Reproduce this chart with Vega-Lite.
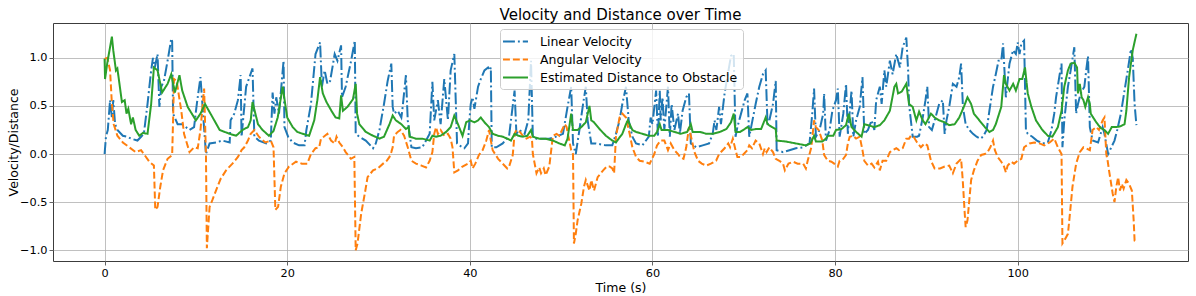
{
"$schema":"https://vega.github.io/schema/vega-lite/v6.json",
"width":1135,"height":238,
"autosize":{"type":"none"},
"padding":{"left":53,"top":23,"right":8,"bottom":35},
"title":{"text":"Velocity and Distance over Time","fontSize":15,"font":"DejaVu Sans","fontWeight":"normal","anchor":"middle","baseline":"alphabetic","offset":-11.5,"color":"#000000"},
"config":{
"font":"DejaVu Sans",
"view":{"stroke":"#3c3c3c","strokeWidth":1},
"axis":{"domain":false,"grid":true,"gridColor":"#b0b0b0","gridWidth":0.8,"tickColor":"#3c3c3c","tickSize":4,"tickWidth":0.8,"labelFont":"DejaVu Sans","labelFontSize":11.3,"labelColor":"#000000","titleFont":"DejaVu Sans","titleFontSize":12.5,"titleFontWeight":"normal","titleColor":"#000000"},
"legend":{"orient":"none","legendX":447,"legendY":6,"title":null,"labelFont":"DejaVu Sans","labelFontSize":12.5,"labelColor":"#000000","labelLimit":400,"symbolType":"M-2,0H2","symbolSize":156,"symbolStrokeWidth":2,"symbolOffset":3,"labelOffset":17,"padding":5,"rowPadding":4,"fillColor":"rgba(255,255,255,0.8)","strokeColor":"#cccccc","cornerRadius":3}
},
"data":{"values":[
{"s":"L","t":0,"v":0.0},{"s":"L","t":0.15,"v":0.18},{"s":"L","t":0.35,"v":0.25},{"s":"L","t":0.6,"v":0.56},{"s":"L","t":0.8,"v":0.38},{"s":"L","t":0.95,"v":0.56},{"s":"L","t":1.15,"v":0.31},{"s":"L","t":1.4,"v":0.25},{"s":"L","t":2.0,"v":0.19},{"s":"L","t":2.5,"v":0.18},{"s":"L","t":2.9,"v":0.16},{"s":"L","t":3.6,"v":0.14},{"s":"L","t":4.0,"v":0.18},{"s":"L","t":4.3,"v":0.21},{"s":"L","t":4.7,"v":0.52},{"s":"L","t":5.1,"v":0.87},{"s":"L","t":5.3,"v":1.0},{"s":"L","t":5.5,"v":0.9},{"s":"L","t":5.8,"v":1.04},{"s":"L","t":6.0,"v":0.49},{"s":"L","t":6.2,"v":0.7},{"s":"L","t":6.5,"v":0.76},{"s":"L","t":6.9,"v":0.97},{"s":"L","t":7.3,"v":1.2},{"s":"L","t":7.4,"v":1.17},{"s":"L","t":7.5,"v":0.42},{"s":"L","t":8.0,"v":0.31},{"s":"L","t":8.5,"v":0.31},{"s":"L","t":9.3,"v":0.25},{"s":"L","t":9.8,"v":0.28},{"s":"L","t":10.1,"v":0.52},{"s":"L","t":10.5,"v":0.8},{"s":"L","t":11.1,"v":0.0},{"s":"L","t":11.5,"v":0.11},{"s":"L","t":12.2,"v":0.12},{"s":"L","t":12.9,"v":0.14},{"s":"L","t":13.7,"v":0.12},{"s":"L","t":13.8,"v":0.35},{"s":"L","t":14.2,"v":0.42},{"s":"L","t":14.6,"v":0.56},{"s":"L","t":14.9,"v":0.82},{"s":"L","t":15.0,"v":0.18},{"s":"L","t":15.5,"v":0.7},{"s":"L","t":16.2,"v":0.89},{"s":"L","t":16.4,"v":0.18},{"s":"L","t":16.9,"v":0.14},{"s":"L","t":17.7,"v":0.11},{"s":"L","t":18.2,"v":0.14},{"s":"L","t":18.4,"v":0.64},{"s":"L","t":18.6,"v":0.42},{"s":"L","t":18.8,"v":0.59},{"s":"L","t":19.1,"v":0.42},{"s":"L","t":19.6,"v":0.97},{"s":"L","t":19.7,"v":0.28},{"s":"L","t":20.1,"v":0.18},{"s":"L","t":20.6,"v":0.12},{"s":"L","t":21.3,"v":0.09},{"s":"L","t":21.9,"v":0.09},{"s":"L","t":22.1,"v":0.25},{"s":"L","t":22.6,"v":0.52},{"s":"L","t":23.1,"v":1.04},{"s":"L","t":23.6,"v":1.16},{"s":"L","t":23.8,"v":0.7},{"s":"L","t":24.1,"v":0.87},{"s":"L","t":24.4,"v":0.73},{"s":"L","t":24.7,"v":0.76},{"s":"L","t":25.2,"v":1.04},{"s":"L","t":25.5,"v":0.97},{"s":"L","t":25.9,"v":1.13},{"s":"L","t":26.0,"v":0.59},{"s":"L","t":26.4,"v":0.7},{"s":"L","t":27.0,"v":0.97},{"s":"L","t":27.4,"v":1.18},{"s":"L","t":27.5,"v":0.21},{"s":"L","t":27.9,"v":0.18},{"s":"L","t":28.6,"v":0.14},{"s":"L","t":29.4,"v":0.06},{"s":"L","t":29.7,"v":0.11},{"s":"L","t":30.1,"v":0.25},{"s":"L","t":30.6,"v":0.52},{"s":"L","t":31.0,"v":0.76},{"s":"L","t":31.4,"v":0.94},{"s":"L","t":31.55,"v":0.49},{"s":"L","t":31.7,"v":0.42},{"s":"L","t":32.1,"v":0.45},{"s":"L","t":32.5,"v":0.38},{"s":"L","t":32.6,"v":0.45},{"s":"L","t":33.0,"v":0.82},{"s":"L","t":33.2,"v":0.35},{"s":"L","t":33.6,"v":0.07},{"s":"L","t":34.1,"v":0.06},{"s":"L","t":34.8,"v":0.07},{"s":"L","t":35.6,"v":0.21},{"s":"L","t":35.9,"v":0.75},{"s":"L","t":36.1,"v":0.35},{"s":"L","t":36.5,"v":0.56},{"s":"L","t":36.8,"v":0.31},{"s":"L","t":37.2,"v":0.78},{"s":"L","t":37.6,"v":0.35},{"s":"L","t":37.9,"v":0.87},{"s":"L","t":38.3,"v":1.04},{"s":"L","t":38.6,"v":0.11},{"s":"L","t":38.85,"v":0.09},{"s":"L","t":39.4,"v":0.06},{"s":"L","t":39.8,"v":0.11},{"s":"L","t":39.95,"v":0.35},{"s":"L","t":40.1,"v":0.52},{"s":"L","t":40.3,"v":0.59},{"s":"L","t":40.5,"v":0.47},{"s":"L","t":40.9,"v":0.7},{"s":"L","t":41.2,"v":0.78},{"s":"L","t":41.6,"v":0.87},{"s":"L","t":42.0,"v":0.9},{"s":"L","t":42.2,"v":0.87},{"s":"L","t":42.3,"v":0.9},{"s":"L","t":42.4,"v":0.07},{"s":"L","t":42.9,"v":0.07},{"s":"L","t":43.6,"v":0.11},{"s":"L","t":44.3,"v":0.19},{"s":"L","t":44.9,"v":0.66},{"s":"L","t":45.1,"v":0.21},{"s":"L","t":45.4,"v":0.25},{"s":"L","t":46.0,"v":0.21},{"s":"L","t":46.4,"v":0.35},{"s":"L","t":46.7,"v":0.97},{"s":"L","t":46.9,"v":0.18},{"s":"L","t":47.3,"v":0.16},{"s":"L","t":48.0,"v":0.16},{"s":"L","t":48.7,"v":0.16},{"s":"L","t":49.4,"v":0.18},{"s":"L","t":50.2,"v":0.21},{"s":"L","t":50.7,"v":0.49},{"s":"L","t":51.1,"v":0.7},{"s":"L","t":51.3,"v":0.11},{"s":"L","t":51.6,"v":0.0},{"s":"L","t":52.0,"v":0.25},{"s":"L","t":52.4,"v":0.52},{"s":"L","t":52.7,"v":0.7},{"s":"L","t":52.9,"v":0.35},{"s":"L","t":53.3,"v":0.11},{"s":"L","t":53.8,"v":0.11},{"s":"L","t":54.9,"v":0.09},{"s":"L","t":55.6,"v":0.09},{"s":"L","t":56.0,"v":0.21},{"s":"L","t":56.4,"v":0.35},{"s":"L","t":56.7,"v":0.52},{"s":"L","t":57.1,"v":0.7},{"s":"L","t":57.4,"v":0.35},{"s":"L","t":57.8,"v":0.18},{"s":"L","t":58.2,"v":0.11},{"s":"L","t":58.9,"v":0.09},{"s":"L","t":59.6,"v":0.18},{"s":"L","t":59.8,"v":0.38},{"s":"L","t":60.0,"v":0.31},{"s":"L","t":60.4,"v":0.66},{"s":"L","t":60.6,"v":0.18},{"s":"L","t":60.8,"v":0.66},{"s":"L","t":60.9,"v":0.35},{"s":"L","t":61.1,"v":0.59},{"s":"L","t":61.3,"v":0.25},{"s":"L","t":61.7,"v":0.7},{"s":"L","t":61.9,"v":0.18},{"s":"L","t":62.1,"v":0.52},{"s":"L","t":62.4,"v":0.25},{"s":"L","t":62.8,"v":0.42},{"s":"L","t":63.0,"v":0.21},{"s":"L","t":63.3,"v":0.45},{"s":"L","t":63.7,"v":0.59},{"s":"L","t":64.0,"v":0.63},{"s":"L","t":64.2,"v":0.11},{"s":"L","t":64.8,"v":0.07},{"s":"L","t":65.5,"v":0.09},{"s":"L","t":66.2,"v":0.11},{"s":"L","t":66.6,"v":0.21},{"s":"L","t":66.8,"v":0.35},{"s":"L","t":67.0,"v":0.25},{"s":"L","t":67.3,"v":0.49},{"s":"L","t":67.5,"v":0.31},{"s":"L","t":67.9,"v":0.63},{"s":"L","t":68.2,"v":0.8},{"s":"L","t":68.6,"v":1.02},{"s":"L","t":68.9,"v":1.04},{"s":"L","t":69.1,"v":0.18},{"s":"L","t":69.3,"v":0.28},{"s":"L","t":69.7,"v":0.42},{"s":"L","t":70.1,"v":0.56},{"s":"L","t":70.4,"v":0.63},{"s":"L","t":70.6,"v":0.18},{"s":"L","t":70.95,"v":0.35},{"s":"L","t":71.3,"v":0.52},{"s":"L","t":71.7,"v":0.7},{"s":"L","t":72.1,"v":0.83},{"s":"L","t":72.4,"v":0.87},{"s":"L","t":72.6,"v":0.31},{"s":"L","t":72.8,"v":0.35},{"s":"L","t":73.2,"v":0.52},{"s":"L","t":73.5,"v":0.76},{"s":"L","t":73.6,"v":0.04},{"s":"L","t":74.3,"v":0.02},{"s":"L","t":75.0,"v":0.04},{"s":"L","t":75.7,"v":0.06},{"s":"L","t":76.5,"v":0.07},{"s":"L","t":77.2,"v":0.11},{"s":"L","t":77.5,"v":0.42},{"s":"L","t":77.7,"v":0.68},{"s":"L","t":77.9,"v":0.18},{"s":"L","t":78.3,"v":0.25},{"s":"L","t":78.7,"v":0.42},{"s":"L","t":78.8,"v":0.63},{"s":"L","t":79.0,"v":0.14},{"s":"L","t":79.4,"v":0.25},{"s":"L","t":79.7,"v":0.45},{"s":"L","t":80.1,"v":0.56},{"s":"L","t":80.3,"v":0.68},{"s":"L","t":80.5,"v":0.18},{"s":"L","t":80.9,"v":0.42},{"s":"L","t":81.2,"v":0.73},{"s":"L","t":81.4,"v":0.21},{"s":"L","t":81.8,"v":0.66},{"s":"L","t":82.0,"v":0.18},{"s":"L","t":82.3,"v":0.35},{"s":"L","t":82.7,"v":0.49},{"s":"L","t":83.0,"v":0.8},{"s":"L","t":83.2,"v":0.21},{"s":"L","t":83.6,"v":0.25},{"s":"L","t":84.0,"v":0.35},{"s":"L","t":84.3,"v":0.25},{"s":"L","t":84.5,"v":0.56},{"s":"L","t":84.9,"v":0.7},{"s":"L","t":85.1,"v":0.52},{"s":"L","t":85.4,"v":0.87},{"s":"L","t":85.6,"v":0.7},{"s":"L","t":86.0,"v":0.97},{"s":"L","t":86.3,"v":0.83},{"s":"L","t":86.7,"v":1.04},{"s":"L","t":87.1,"v":0.9},{"s":"L","t":87.4,"v":1.11},{"s":"L","t":87.8,"v":1.21},{"s":"L","t":88.0,"v":0.87},{"s":"L","t":88.1,"v":0.52},{"s":"L","t":88.5,"v":0.18},{"s":"L","t":89.0,"v":0.18},{"s":"L","t":89.2,"v":0.19},{"s":"L","t":89.6,"v":0.38},{"s":"L","t":89.9,"v":0.56},{"s":"L","t":90.1,"v":0.7},{"s":"L","t":90.3,"v":0.28},{"s":"L","t":90.6,"v":0.25},{"s":"L","t":91.0,"v":0.38},{"s":"L","t":91.4,"v":0.52},{"s":"L","t":91.8,"v":0.56},{"s":"L","t":92.0,"v":0.21},{"s":"L","t":92.2,"v":0.35},{"s":"L","t":92.5,"v":0.49},{"s":"L","t":92.9,"v":0.73},{"s":"L","t":93.3,"v":0.7},{"s":"L","t":93.6,"v":0.8},{"s":"L","t":93.8,"v":0.94},{"s":"L","t":94.0,"v":0.49},{"s":"L","t":94.3,"v":0.31},{"s":"L","t":94.7,"v":0.25},{"s":"L","t":95.1,"v":0.21},{"s":"L","t":95.5,"v":0.18},{"s":"L","t":95.9,"v":0.16},{"s":"L","t":96.2,"v":0.18},{"s":"L","t":96.6,"v":0.25},{"s":"L","t":96.9,"v":0.45},{"s":"L","t":97.3,"v":0.7},{"s":"L","t":97.6,"v":0.83},{"s":"L","t":97.9,"v":0.97},{"s":"L","t":98.2,"v":0.97},{"s":"L","t":98.4,"v":1.15},{"s":"L","t":98.55,"v":0.87},{"s":"L","t":98.7,"v":0.59},{"s":"L","t":99.1,"v":0.94},{"s":"L","t":99.5,"v":1.08},{"s":"L","t":99.8,"v":1.04},{"s":"L","t":100.0,"v":1.16},{"s":"L","t":100.2,"v":1.04},{"s":"L","t":100.4,"v":1.15},{"s":"L","t":100.7,"v":1.18},{"s":"L","t":100.9,"v":0.25},{"s":"L","t":101.1,"v":0.21},{"s":"L","t":101.6,"v":0.18},{"s":"L","t":102.1,"v":0.14},{"s":"L","t":102.7,"v":0.11},{"s":"L","t":103.3,"v":0.12},{"s":"L","t":103.7,"v":0.25},{"s":"L","t":104.0,"v":0.42},{"s":"L","t":104.2,"v":0.59},{"s":"L","t":104.6,"v":0.83},{"s":"L","t":104.8,"v":0.94},{"s":"L","t":104.9,"v":0.07},{"s":"L","t":105.1,"v":0.35},{"s":"L","t":105.5,"v":0.7},{"s":"L","t":105.8,"v":0.87},{"s":"L","t":106.2,"v":1.11},{"s":"L","t":106.4,"v":0.42},{"s":"L","t":106.6,"v":0.52},{"s":"L","t":106.9,"v":0.63},{"s":"L","t":107.3,"v":0.7},{"s":"L","t":107.5,"v":0.87},{"s":"L","t":107.7,"v":1.02},{"s":"L","t":107.9,"v":0.28},{"s":"L","t":108.2,"v":0.14},{"s":"L","t":108.8,"v":0.12},{"s":"L","t":109.3,"v":0.28},{"s":"L","t":109.5,"v":0.21},{"s":"L","t":109.9,"v":0.0},{"s":"L","t":110.2,"v":0.06},{"s":"L","t":110.6,"v":0.14},{"s":"L","t":110.9,"v":0.25},{"s":"L","t":111.3,"v":0.42},{"s":"L","t":111.7,"v":0.66},{"s":"L","t":112.1,"v":0.9},{"s":"L","t":112.4,"v":1.09},{"s":"L","t":112.6,"v":1.0},{"s":"L","t":112.8,"v":0.52},{"s":"L","t":113.0,"v":0.3},
{"s":"A","t":0,"v":0.99},{"s":"A","t":0.3,"v":1.0},{"s":"A","t":0.6,"v":0.87},{"s":"A","t":0.8,"v":0.52},{"s":"A","t":1.0,"v":0.31},{"s":"A","t":1.4,"v":0.19},{"s":"A","t":2.0,"v":0.12},{"s":"A","t":2.7,"v":0.07},{"s":"A","t":3.4,"v":0.02},{"s":"A","t":4.0,"v":0.04},{"s":"A","t":4.3,"v":0.0},{"s":"A","t":4.9,"v":-0.08},{"s":"A","t":5.4,"v":-0.12},{"s":"A","t":5.55,"v":-0.58},{"s":"A","t":5.8,"v":-0.55},{"s":"A","t":6.1,"v":-0.34},{"s":"A","t":6.4,"v":-0.17},{"s":"A","t":6.9,"v":-0.05},{"s":"A","t":7.4,"v":-0.01},{"s":"A","t":7.5,"v":0.35},{"s":"A","t":7.6,"v":0.78},{"s":"A","t":7.9,"v":0.76},{"s":"A","t":8.1,"v":0.63},{"s":"A","t":8.4,"v":0.45},{"s":"A","t":8.7,"v":0.21},{"s":"A","t":9.3,"v":0.02},{"s":"A","t":9.8,"v":0.07},{"s":"A","t":10.2,"v":0.06},{"s":"A","t":10.5,"v":0.25},{"s":"A","t":10.9,"v":0.68},{"s":"A","t":11.1,"v":0.0},{"s":"A","t":11.2,"v":-0.98},{"s":"A","t":11.5,"v":-0.55},{"s":"A","t":11.8,"v":-0.48},{"s":"A","t":12.2,"v":-0.38},{"s":"A","t":12.7,"v":-0.26},{"s":"A","t":13.3,"v":-0.17},{"s":"A","t":14.0,"v":-0.1},{"s":"A","t":14.6,"v":-0.03},{"s":"A","t":15.0,"v":0.04},{"s":"A","t":15.3,"v":0.07},{"s":"A","t":15.7,"v":0.14},{"s":"A","t":16.0,"v":0.21},{"s":"A","t":16.4,"v":0.25},{"s":"A","t":16.9,"v":0.18},{"s":"A","t":17.6,"v":0.12},{"s":"A","t":18.2,"v":0.14},{"s":"A","t":18.5,"v":0.07},{"s":"A","t":18.7,"v":-0.58},{"s":"A","t":19.0,"v":-0.55},{"s":"A","t":19.3,"v":-0.34},{"s":"A","t":19.7,"v":-0.2},{"s":"A","t":20.2,"v":-0.13},{"s":"A","t":20.96,"v":-0.08},{"s":"A","t":21.6,"v":-0.1},{"s":"A","t":22.2,"v":-0.1},{"s":"A","t":22.6,"v":0.0},{"s":"A","t":23.1,"v":0.06},{"s":"A","t":23.5,"v":0.07},{"s":"A","t":23.7,"v":0.16},{"s":"A","t":24.0,"v":0.18},{"s":"A","t":24.4,"v":0.21},{"s":"A","t":24.8,"v":0.14},{"s":"A","t":25.2,"v":0.11},{"s":"A","t":25.4,"v":0.18},{"s":"A","t":25.7,"v":0.12},{"s":"A","t":26.1,"v":0.07},{"s":"A","t":26.4,"v":0.02},{"s":"A","t":26.98,"v":-0.05},{"s":"A","t":27.35,"v":-0.03},{"s":"A","t":27.5,"v":-1.0},{"s":"A","t":27.7,"v":-0.93},{"s":"A","t":28.1,"v":-0.62},{"s":"A","t":28.5,"v":-0.41},{"s":"A","t":28.8,"v":-0.24},{"s":"A","t":29.4,"v":-0.17},{"s":"A","t":29.9,"v":-0.15},{"s":"A","t":30.5,"v":-0.1},{"s":"A","t":30.9,"v":-0.07},{"s":"A","t":31.2,"v":-0.03},{"s":"A","t":31.4,"v":0.02},{"s":"A","t":31.55,"v":0.07},{"s":"A","t":31.7,"v":0.19},{"s":"A","t":32.1,"v":0.23},{"s":"A","t":32.4,"v":0.25},{"s":"A","t":32.8,"v":0.19},{"s":"A","t":33.2,"v":0.07},{"s":"A","t":33.6,"v":-0.07},{"s":"A","t":34.1,"v":-0.1},{"s":"A","t":34.7,"v":-0.12},{"s":"A","t":35.2,"v":-0.14},{"s":"A","t":35.6,"v":-0.07},{"s":"A","t":35.9,"v":0.02},{"s":"A","t":36.1,"v":0.21},{"s":"A","t":36.3,"v":0.28},{"s":"A","t":36.5,"v":0.21},{"s":"A","t":36.8,"v":0.25},{"s":"A","t":37.2,"v":0.19},{"s":"A","t":37.6,"v":0.21},{"s":"A","t":37.9,"v":0.16},{"s":"A","t":38.1,"v":0.07},{"s":"A","t":38.3,"v":-0.19},{"s":"A","t":38.7,"v":-0.17},{"s":"A","t":39.2,"v":-0.13},{"s":"A","t":39.8,"v":-0.1},{"s":"A","t":40.1,"v":-0.07},{"s":"A","t":40.3,"v":-0.15},{"s":"A","t":40.6,"v":-0.1},{"s":"A","t":41.0,"v":-0.01},{"s":"A","t":41.4,"v":0.04},{"s":"A","t":41.8,"v":0.14},{"s":"A","t":42.1,"v":0.25},{"s":"A","t":42.3,"v":0.14},{"s":"A","t":42.5,"v":0.04},{"s":"A","t":43.1,"v":-0.05},{"s":"A","t":43.6,"v":-0.1},{"s":"A","t":44.1,"v":-0.15},{"s":"A","t":44.3,"v":-0.13},{"s":"A","t":44.7,"v":-0.01},{"s":"A","t":44.9,"v":0.21},{"s":"A","t":45.1,"v":0.25},{"s":"A","t":45.5,"v":0.23},{"s":"A","t":45.8,"v":0.19},{"s":"A","t":46.2,"v":0.16},{"s":"A","t":46.6,"v":0.18},{"s":"A","t":46.8,"v":0.16},{"s":"A","t":46.9,"v":0.0},{"s":"A","t":47.1,"v":-0.1},{"s":"A","t":47.3,"v":-0.2},{"s":"A","t":47.6,"v":-0.14},{"s":"A","t":47.8,"v":-0.2},{"s":"A","t":48.1,"v":-0.15},{"s":"A","t":48.3,"v":-0.22},{"s":"A","t":48.7,"v":-0.13},{"s":"A","t":49.1,"v":0.19},{"s":"A","t":49.5,"v":0.21},{"s":"A","t":49.8,"v":0.19},{"s":"A","t":50.4,"v":0.31},{"s":"A","t":50.6,"v":0.28},{"s":"A","t":50.8,"v":0.18},{"s":"A","t":51.1,"v":0.04},{"s":"A","t":51.3,"v":0.0},{"s":"A","t":51.4,"v":-0.93},{"s":"A","t":51.6,"v":-0.83},{"s":"A","t":51.8,"v":-0.69},{"s":"A","t":52.2,"v":-0.52},{"s":"A","t":52.5,"v":-0.34},{"s":"A","t":52.7,"v":-0.27},{"s":"A","t":53.1,"v":-0.38},{"s":"A","t":53.3,"v":-0.27},{"s":"A","t":53.6,"v":-0.38},{"s":"A","t":54.0,"v":-0.24},{"s":"A","t":54.6,"v":-0.17},{"s":"A","t":55.0,"v":-0.13},{"s":"A","t":55.3,"v":-0.13},{"s":"A","t":55.6,"v":-0.15},{"s":"A","t":55.8,"v":-0.2},{"s":"A","t":56.0,"v":0.18},{"s":"A","t":56.4,"v":0.38},{"s":"A","t":56.7,"v":0.42},{"s":"A","t":57.1,"v":0.38},{"s":"A","t":57.5,"v":0.21},{"s":"A","t":57.8,"v":0.07},{"s":"A","t":58.2,"v":-0.03},{"s":"A","t":58.6,"v":-0.07},{"s":"A","t":59.1,"v":-0.08},{"s":"A","t":59.7,"v":-0.1},{"s":"A","t":60.2,"v":0.0},{"s":"A","t":60.5,"v":0.09},{"s":"A","t":60.9,"v":0.14},{"s":"A","t":61.3,"v":0.14},{"s":"A","t":61.7,"v":0.04},{"s":"A","t":62.0,"v":0.11},{"s":"A","t":62.4,"v":0.04},{"s":"A","t":62.8,"v":0.0},{"s":"A","t":63.0,"v":-0.03},{"s":"A","t":63.4,"v":-0.05},{"s":"A","t":63.7,"v":0.07},{"s":"A","t":64.0,"v":0.28},{"s":"A","t":64.2,"v":0.19},{"s":"A","t":64.6,"v":0.02},{"s":"A","t":65.0,"v":-0.07},{"s":"A","t":65.4,"v":-0.1},{"s":"A","t":65.9,"v":-0.12},{"s":"A","t":66.4,"v":-0.1},{"s":"A","t":66.97,"v":-0.07},{"s":"A","t":67.3,"v":0.0},{"s":"A","t":67.9,"v":0.06},{"s":"A","t":68.3,"v":0.11},{"s":"A","t":68.5,"v":0.07},{"s":"A","t":68.8,"v":0.16},{"s":"A","t":69.1,"v":0.04},{"s":"A","t":69.3,"v":-0.03},{"s":"A","t":69.7,"v":-0.03},{"s":"A","t":70.0,"v":0.0},{"s":"A","t":70.4,"v":0.04},{"s":"A","t":70.6,"v":0.09},{"s":"A","t":70.9,"v":0.06},{"s":"A","t":71.3,"v":0.14},{"s":"A","t":71.7,"v":0.11},{"s":"A","t":72.1,"v":0.0},{"s":"A","t":72.3,"v":0.06},{"s":"A","t":72.5,"v":0.02},{"s":"A","t":72.8,"v":0.07},{"s":"A","t":73.2,"v":0.02},{"s":"A","t":73.5,"v":-0.05},{"s":"A","t":73.9,"v":-0.07},{"s":"A","t":74.3,"v":-0.1},{"s":"A","t":74.5,"v":-0.17},{"s":"A","t":74.9,"v":-0.1},{"s":"A","t":75.4,"v":-0.08},{"s":"A","t":75.9,"v":-0.1},{"s":"A","t":76.5,"v":-0.1},{"s":"A","t":76.8,"v":-0.15},{"s":"A","t":77.0,"v":-0.07},{"s":"A","t":77.4,"v":0.07},{"s":"A","t":77.7,"v":0.35},{"s":"A","t":77.9,"v":0.28},{"s":"A","t":78.2,"v":0.25},{"s":"A","t":78.6,"v":0.14},{"s":"A","t":78.8,"v":-0.01},{"s":"A","t":79.2,"v":-0.07},{"s":"A","t":79.6,"v":-0.08},{"s":"A","t":79.9,"v":-0.1},{"s":"A","t":80.3,"v":-0.13},{"s":"A","t":80.5,"v":-0.07},{"s":"A","t":80.9,"v":-0.05},{"s":"A","t":81.2,"v":-0.01},{"s":"A","t":81.4,"v":0.11},{"s":"A","t":81.6,"v":0.18},{"s":"A","t":82.0,"v":0.19},{"s":"A","t":82.3,"v":0.16},{"s":"A","t":82.7,"v":0.18},{"s":"A","t":83.0,"v":0.04},{"s":"A","t":83.2,"v":-0.07},{"s":"A","t":83.6,"v":-0.12},{"s":"A","t":84.0,"v":-0.1},{"s":"A","t":84.3,"v":-0.14},{"s":"A","t":84.7,"v":-0.08},{"s":"A","t":84.9,"v":-0.17},{"s":"A","t":85.2,"v":-0.07},{"s":"A","t":85.6,"v":-0.07},{"s":"A","t":86.0,"v":0.02},{"s":"A","t":86.3,"v":0.04},{"s":"A","t":86.7,"v":0.06},{"s":"A","t":87.0,"v":0.04},{"s":"A","t":87.4,"v":0.06},{"s":"A","t":87.8,"v":0.16},{"s":"A","t":88.1,"v":0.16},{"s":"A","t":88.3,"v":0.19},{"s":"A","t":88.6,"v":0.18},{"s":"A","t":88.98,"v":0.12},{"s":"A","t":89.4,"v":0.07},{"s":"A","t":89.8,"v":0.11},{"s":"A","t":90.1,"v":0.09},{"s":"A","t":90.5,"v":-0.07},{"s":"A","t":90.9,"v":-0.15},{"s":"A","t":91.5,"v":-0.15},{"s":"A","t":92.0,"v":-0.13},{"s":"A","t":92.5,"v":-0.12},{"s":"A","t":92.9,"v":-0.2},{"s":"A","t":93.3,"v":-0.1},{"s":"A","t":93.8,"v":-0.05},{"s":"A","t":93.98,"v":-0.27},{"s":"A","t":94.2,"v":-0.62},{"s":"A","t":94.3,"v":-0.76},{"s":"A","t":94.5,"v":-0.69},{"s":"A","t":94.7,"v":-0.48},{"s":"A","t":94.9,"v":-0.27},{"s":"A","t":95.2,"v":-0.17},{"s":"A","t":95.6,"v":-0.07},{"s":"A","t":96.0,"v":-0.01},{"s":"A","t":96.4,"v":0.0},{"s":"A","t":96.7,"v":0.02},{"s":"A","t":97.0,"v":0.07},{"s":"A","t":97.3,"v":0.14},{"s":"A","t":97.5,"v":0.04},{"s":"A","t":97.8,"v":-0.03},{"s":"A","t":98.2,"v":-0.08},{"s":"A","t":98.5,"v":-0.13},{"s":"A","t":98.7,"v":-0.19},{"s":"A","t":98.9,"v":-0.12},{"s":"A","t":99.3,"v":-0.08},{"s":"A","t":99.6,"v":-0.1},{"s":"A","t":100.0,"v":-0.07},{"s":"A","t":100.4,"v":-0.05},{"s":"A","t":100.7,"v":0.07},{"s":"A","t":101.3,"v":0.11},{"s":"A","t":101.8,"v":0.12},{"s":"A","t":102.4,"v":0.11},{"s":"A","t":102.9,"v":0.09},{"s":"A","t":103.5,"v":0.12},{"s":"A","t":104.0,"v":0.16},{"s":"A","t":104.4,"v":0.07},{"s":"A","t":104.8,"v":0.0},{"s":"A","t":104.9,"v":-0.93},{"s":"A","t":105.1,"v":-0.9},{"s":"A","t":105.5,"v":-0.83},{"s":"A","t":105.65,"v":-0.69},{"s":"A","t":106.0,"v":-0.34},{"s":"A","t":106.4,"v":-0.1},{"s":"A","t":106.8,"v":0.02},{"s":"A","t":107.2,"v":0.07},{"s":"A","t":107.5,"v":0.06},{"s":"A","t":107.9,"v":0.04},{"s":"A","t":108.0,"v":0.11},{"s":"A","t":108.2,"v":0.25},{"s":"A","t":108.6,"v":0.28},{"s":"A","t":108.9,"v":0.25},{"s":"A","t":109.3,"v":0.35},{"s":"A","t":109.5,"v":0.38},{"s":"A","t":109.7,"v":0.0},{"s":"A","t":109.85,"v":-0.07},{"s":"A","t":110.0,"v":-0.17},{"s":"A","t":110.4,"v":-0.41},{"s":"A","t":110.6,"v":-0.5},{"s":"A","t":110.8,"v":-0.34},{"s":"A","t":111.0,"v":-0.24},{"s":"A","t":111.2,"v":-0.38},{"s":"A","t":111.4,"v":-0.31},{"s":"A","t":111.6,"v":-0.36},{"s":"A","t":111.9,"v":-0.27},{"s":"A","t":112.2,"v":-0.31},{"s":"A","t":112.5,"v":-0.38},{"s":"A","t":112.7,"v":-0.69},{"s":"A","t":112.8,"v":-0.9},{"s":"A","t":113.0,"v":-0.91},
{"s":"D","t":0,"v":0.99},{"s":"D","t":0.05,"v":0.78},{"s":"D","t":0.3,"v":0.95},{"s":"D","t":0.8,"v":1.22},{"s":"D","t":0.95,"v":1.08},{"s":"D","t":1.24,"v":0.87},{"s":"D","t":1.4,"v":0.89},{"s":"D","t":1.9,"v":0.54},{"s":"D","t":2.2,"v":0.56},{"s":"D","t":2.4,"v":0.42},{"s":"D","t":2.6,"v":0.47},{"s":"D","t":2.9,"v":0.31},{"s":"D","t":3.1,"v":0.38},{"s":"D","t":3.4,"v":0.25},{"s":"D","t":3.8,"v":0.19},{"s":"D","t":4.2,"v":0.22},{"s":"D","t":4.7,"v":0.21},{"s":"D","t":5.1,"v":0.52},{"s":"D","t":5.4,"v":0.9},{"s":"D","t":5.8,"v":0.87},{"s":"D","t":6.3,"v":0.64},{"s":"D","t":6.9,"v":0.73},{"s":"D","t":7.3,"v":0.83},{"s":"D","t":7.7,"v":0.64},{"s":"D","t":8.2,"v":0.82},{"s":"D","t":8.5,"v":0.66},{"s":"D","t":9.1,"v":0.49},{"s":"D","t":10.0,"v":0.35},{"s":"D","t":10.5,"v":0.42},{"s":"D","t":11.0,"v":0.52},{"s":"D","t":11.6,"v":0.42},{"s":"D","t":12.6,"v":0.25},{"s":"D","t":13.7,"v":0.21},{"s":"D","t":14.4,"v":0.19},{"s":"D","t":15.1,"v":0.25},{"s":"D","t":15.7,"v":0.28},{"s":"D","t":16.0,"v":0.35},{"s":"D","t":16.2,"v":0.54},{"s":"D","t":16.8,"v":0.31},{"s":"D","t":17.3,"v":0.25},{"s":"D","t":18.0,"v":0.19},{"s":"D","t":18.5,"v":0.24},{"s":"D","t":18.96,"v":0.38},{"s":"D","t":19.5,"v":0.7},{"s":"D","t":20.0,"v":0.38},{"s":"D","t":20.6,"v":0.28},{"s":"D","t":21.1,"v":0.23},{"s":"D","t":21.7,"v":0.21},{"s":"D","t":22.4,"v":0.19},{"s":"D","t":22.96,"v":0.35},{"s":"D","t":23.3,"v":0.56},{"s":"D","t":23.6,"v":0.8},{"s":"D","t":23.9,"v":0.63},{"s":"D","t":24.3,"v":0.54},{"s":"D","t":24.6,"v":0.49},{"s":"D","t":24.9,"v":0.44},{"s":"D","t":25.3,"v":0.38},{"s":"D","t":25.7,"v":0.37},{"s":"D","t":25.9,"v":0.61},{"s":"D","t":26.1,"v":0.45},{"s":"D","t":26.6,"v":0.49},{"s":"D","t":27.2,"v":0.57},{"s":"D","t":27.5,"v":0.73},{"s":"D","t":27.65,"v":0.42},{"s":"D","t":27.9,"v":0.31},{"s":"D","t":28.6,"v":0.23},{"s":"D","t":29.4,"v":0.19},{"s":"D","t":30.1,"v":0.16},{"s":"D","t":30.6,"v":0.18},{"s":"D","t":31.2,"v":0.31},{"s":"D","t":31.55,"v":0.4},{"s":"D","t":31.9,"v":0.35},{"s":"D","t":32.5,"v":0.31},{"s":"D","t":33.0,"v":0.26},{"s":"D","t":33.3,"v":0.28},{"s":"D","t":33.4,"v":0.18},{"s":"D","t":34.1,"v":0.16},{"s":"D","t":34.8,"v":0.16},{"s":"D","t":35.6,"v":0.14},{"s":"D","t":35.9,"v":0.19},{"s":"D","t":36.3,"v":0.18},{"s":"D","t":36.8,"v":0.19},{"s":"D","t":37.4,"v":0.23},{"s":"D","t":37.9,"v":0.28},{"s":"D","t":38.3,"v":0.4},{"s":"D","t":38.7,"v":0.31},{"s":"D","t":39.2,"v":0.19},{"s":"D","t":39.6,"v":0.33},{"s":"D","t":40.0,"v":0.35},{"s":"D","t":40.5,"v":0.33},{"s":"D","t":40.9,"v":0.35},{"s":"D","t":41.2,"v":0.38},{"s":"D","t":41.6,"v":0.33},{"s":"D","t":42.1,"v":0.28},{"s":"D","t":42.5,"v":0.21},{"s":"D","t":43.1,"v":0.19},{"s":"D","t":43.6,"v":0.18},{"s":"D","t":44.1,"v":0.16},{"s":"D","t":44.5,"v":0.14},{"s":"D","t":44.9,"v":0.21},{"s":"D","t":45.3,"v":0.19},{"s":"D","t":45.8,"v":0.18},{"s":"D","t":46.3,"v":0.19},{"s":"D","t":46.7,"v":0.25},{"s":"D","t":46.9,"v":0.18},{"s":"D","t":47.6,"v":0.16},{"s":"D","t":48.3,"v":0.16},{"s":"D","t":49.1,"v":0.14},{"s":"D","t":49.8,"v":0.11},{"s":"D","t":50.4,"v":0.09},{"s":"D","t":50.7,"v":0.16},{"s":"D","t":51.1,"v":0.42},{"s":"D","t":51.3,"v":0.25},{"s":"D","t":51.8,"v":0.25},{"s":"D","t":52.2,"v":0.28},{"s":"D","t":52.7,"v":0.33},{"s":"D","t":53.1,"v":0.5},{"s":"D","t":53.3,"v":0.35},{"s":"D","t":53.6,"v":0.33},{"s":"D","t":54.2,"v":0.26},{"s":"D","t":54.9,"v":0.19},{"s":"D","t":55.6,"v":0.14},{"s":"D","t":56.0,"v":0.12},{"s":"D","t":56.3,"v":0.16},{"s":"D","t":56.7,"v":0.21},{"s":"D","t":57.1,"v":0.31},{"s":"D","t":57.3,"v":0.35},{"s":"D","t":57.8,"v":0.25},{"s":"D","t":58.2,"v":0.23},{"s":"D","t":58.9,"v":0.21},{"s":"D","t":59.6,"v":0.19},{"s":"D","t":60.2,"v":0.19},{"s":"D","t":60.5,"v":0.23},{"s":"D","t":60.8,"v":0.31},{"s":"D","t":61.0,"v":0.25},{"s":"D","t":61.7,"v":0.25},{"s":"D","t":62.4,"v":0.23},{"s":"D","t":63.1,"v":0.21},{"s":"D","t":63.8,"v":0.23},{"s":"D","t":64.2,"v":0.31},{"s":"D","t":64.4,"v":0.23},{"s":"D","t":65.2,"v":0.23},{"s":"D","t":65.9,"v":0.21},{"s":"D","t":66.6,"v":0.21},{"s":"D","t":67.4,"v":0.23},{"s":"D","t":68.1,"v":0.26},{"s":"D","t":68.6,"v":0.33},{"s":"D","t":68.9,"v":0.42},{"s":"D","t":69.1,"v":0.23},{"s":"D","t":69.6,"v":0.23},{"s":"D","t":70.1,"v":0.26},{"s":"D","t":70.4,"v":0.28},{"s":"D","t":70.8,"v":0.25},{"s":"D","t":71.3,"v":0.26},{"s":"D","t":71.9,"v":0.26},{"s":"D","t":72.4,"v":0.38},{"s":"D","t":72.6,"v":0.31},{"s":"D","t":73.1,"v":0.28},{"s":"D","t":73.5,"v":0.26},{"s":"D","t":73.6,"v":0.14},{"s":"D","t":74.6,"v":0.13},{"s":"D","t":75.7,"v":0.11},{"s":"D","t":76.8,"v":0.09},{"s":"D","t":77.3,"v":0.11},{"s":"D","t":77.7,"v":0.19},{"s":"D","t":77.9,"v":0.13},{"s":"D","t":78.6,"v":0.13},{"s":"D","t":79.0,"v":0.16},{"s":"D","t":79.2,"v":0.19},{"s":"D","t":79.8,"v":0.19},{"s":"D","t":80.1,"v":0.25},{"s":"D","t":80.7,"v":0.26},{"s":"D","t":81.2,"v":0.3},{"s":"D","t":81.5,"v":0.42},{"s":"D","t":81.8,"v":0.28},{"s":"D","t":82.3,"v":0.23},{"s":"D","t":82.9,"v":0.18},{"s":"D","t":83.2,"v":0.31},{"s":"D","t":83.6,"v":0.3},{"s":"D","t":84.3,"v":0.28},{"s":"D","t":84.9,"v":0.3},{"s":"D","t":85.4,"v":0.35},{"s":"D","t":86.0,"v":0.45},{"s":"D","t":86.5,"v":0.7},{"s":"D","t":86.7,"v":0.73},{"s":"D","t":86.9,"v":0.63},{"s":"D","t":87.3,"v":0.65},{"s":"D","t":87.8,"v":0.73},{"s":"D","t":88.1,"v":0.52},{"s":"D","t":88.5,"v":0.49},{"s":"D","t":88.9,"v":0.35},{"s":"D","t":89.2,"v":0.44},{"s":"D","t":89.6,"v":0.35},{"s":"D","t":89.9,"v":0.31},{"s":"D","t":90.5,"v":0.42},{"s":"D","t":90.9,"v":0.38},{"s":"D","t":91.4,"v":0.35},{"s":"D","t":92.0,"v":0.33},{"s":"D","t":92.5,"v":0.3},{"s":"D","t":93.1,"v":0.31},{"s":"D","t":93.6,"v":0.38},{"s":"D","t":94.1,"v":0.49},{"s":"D","t":94.5,"v":0.59},{"s":"D","t":94.9,"v":0.52},{"s":"D","t":95.2,"v":0.42},{"s":"D","t":95.8,"v":0.35},{"s":"D","t":96.4,"v":0.28},{"s":"D","t":96.9,"v":0.23},{"s":"D","t":97.3,"v":0.25},{"s":"D","t":97.6,"v":0.31},{"s":"D","t":98.2,"v":0.49},{"s":"D","t":98.5,"v":0.82},{"s":"D","t":98.7,"v":0.73},{"s":"D","t":99.1,"v":0.66},{"s":"D","t":99.5,"v":0.73},{"s":"D","t":99.8,"v":0.66},{"s":"D","t":100.2,"v":0.78},{"s":"D","t":100.5,"v":0.78},{"s":"D","t":100.8,"v":0.9},{"s":"D","t":101.1,"v":0.63},{"s":"D","t":101.5,"v":0.49},{"s":"D","t":102.0,"v":0.35},{"s":"D","t":102.7,"v":0.25},{"s":"D","t":103.3,"v":0.19},{"s":"D","t":103.8,"v":0.18},{"s":"D","t":104.4,"v":0.28},{"s":"D","t":104.8,"v":0.45},{"s":"D","t":105.1,"v":0.7},{"s":"D","t":105.5,"v":0.87},{"s":"D","t":105.8,"v":0.94},{"s":"D","t":106.2,"v":0.95},{"s":"D","t":106.5,"v":0.9},{"s":"D","t":106.6,"v":0.63},{"s":"D","t":106.8,"v":0.73},{"s":"D","t":107.0,"v":0.59},{"s":"D","t":107.2,"v":0.56},{"s":"D","t":107.4,"v":0.49},{"s":"D","t":107.7,"v":0.59},{"s":"D","t":107.9,"v":0.52},{"s":"D","t":108.0,"v":0.42},{"s":"D","t":108.6,"v":0.33},{"s":"D","t":109.1,"v":0.27},{"s":"D","t":109.5,"v":0.25},{"s":"D","t":109.9,"v":0.21},{"s":"D","t":110.3,"v":0.28},{"s":"D","t":110.8,"v":0.28},{"s":"D","t":111.3,"v":0.29},{"s":"D","t":111.7,"v":0.31},{"s":"D","t":111.9,"v":0.45},{"s":"D","t":112.2,"v":0.8},{"s":"D","t":112.6,"v":1.08},{"s":"D","t":113.0,"v":1.25}
]},
"encoding":{
"x":{"field":"t","type":"quantitative","scale":{"domain":[-5.65,118.65],"nice":false,"zero":false},"axis":{"values":[0,20,40,60,80,100],"format":"d","labelPadding":2,"title":"Time (s)","titlePadding":3}},
"y":{"field":"v","type":"quantitative","scale":{"domain":[-1.1125,1.3625],"nice":false,"zero":false},"axis":{"values":[-1,-0.5,0,0.5,1],"labelExpr":"replace(format(datum.value,'.1f'),'-','−')","labelPadding":2,"title":"Velocity/Distance","titlePadding":-1}},
"color":{"field":"s","type":"nominal","scale":{"domain":["L","A","D"],"range":["#1f77b4","#ff7f0e","#2ca02c"]},"legend":{"labelExpr":"datum.value == 'L' ? 'Linear Velocity' : datum.value == 'A' ? 'Angular Velocity' : 'Estimated Distance to Obstacle'"}},
"strokeDash":{"field":"s","type":"nominal","scale":{"domain":["L","A","D"],"range":[[11.9,3,1.9,3],[6.9,3],[1,0]]},"legend":{"labelExpr":"datum.value == 'L' ? 'Linear Velocity' : datum.value == 'A' ? 'Angular Velocity' : 'Estimated Distance to Obstacle'"}}
},
"layer":[
{"transform":[{"filter":"datum.s == 'L'"}],"mark":{"type":"line","strokeWidth":2}},
{"transform":[{"filter":"datum.s == 'A'"}],"mark":{"type":"line","strokeWidth":2}},
{"transform":[{"filter":"datum.s == 'D'"}],"mark":{"type":"line","strokeWidth":2}}
]
}
